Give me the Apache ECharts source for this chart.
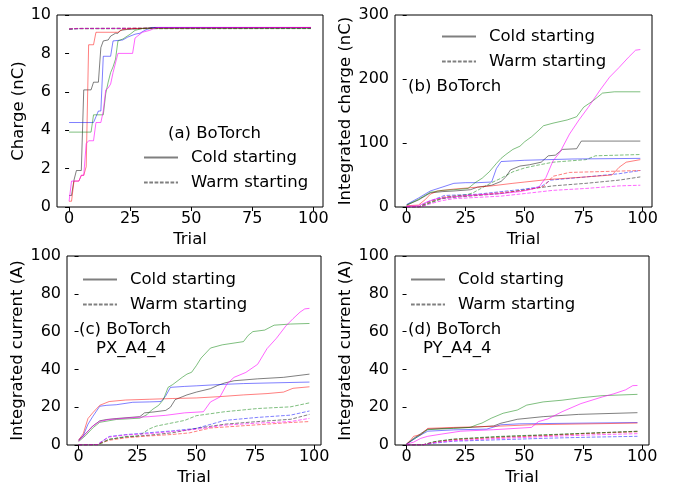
<!DOCTYPE html>
<html>
<head>
<meta charset="utf-8">
<script src="https://cdn.jsdelivr.net/npm/echarts@6/dist/echarts.min.js"></script>
<style>html,body{margin:0;padding:0;background:#fff}#c{width:673px;height:487px}</style>
</head>
<body>
<div id="c"></div>
<script>
// ---------- tick labels ----------
const trialTicks = [0, 25, 50, 75, 100];

// ---------- (a) Charge (nC) ----------
const aColdGray = [[0,0.6],[1,0.6],[2,1.4],[3,1.9],[5,1.9],[6,6.1],[9,6.1],[10,6.5],[12,6.5],[13,8.3],[14,8.65],[16,8.7],[17,8.9],[19,9.05],[20,9.05],[21,9.2],[24,9.25],[30,9.3],[35,9.35],[99,9.35]];
const aColdBlue = [[0,4.4],[10,4.4],[11,4.7],[12,5.0],[13,5.0],[14,7.85],[17,7.85],[18,8.65],[22,8.7],[24,8.85],[27,9.0],[29,9.05],[31,9.2],[34,9.35],[99,9.35]];
const aColdRed = [[0,0.3],[1,0.3],[2,1.35],[4,1.35],[5,1.65],[6,1.65],[7,2.1],[8,8.45],[10,8.45],[11,9.1],[20,9.1],[22,9.25],[26,9.3],[99,9.35]];
const aColdGreen = [[0,3.9],[9,3.9],[10,4.8],[14,4.8],[15,5.9],[16,6.5],[17,7.0],[18,7.3],[19,7.7],[20,8.65],[22,8.75],[25,9.0],[27,9.2],[30,9.3],[99,9.3]];
const aColdMagenta = [[0,0.3],[1,1.35],[4,1.35],[5,1.65],[6,1.65],[7,3.3],[8,3.45],[10,3.45],[11,4.4],[13,4.4],[14,5.0],[15,6.1],[16,6.2],[17,6.4],[18,7.0],[20,8.0],[26,8.0],[27,8.8],[28,8.9],[30,9.1],[33,9.2],[36,9.35],[99,9.35]];
const aWarmGray = [[0,9.27],[3,9.3],[99,9.33]];
const aWarmBlue = [[0,9.26],[5,9.3],[99,9.32]];
const aWarmRed = [[0,9.27],[4,9.3],[99,9.32]];
const aWarmGreen = [[0,9.26],[3,9.28],[99,9.29]];
const aWarmMagenta = [[0,9.27],[2,9.29],[99,9.33]];

// ---------- (b) Integrated charge (nC) ----------
const bColdGray = [[0,3],[5,11],[10,22],[15,24],[20,25],[27,27],[30,31],[36,34],[40,40],[42,47],[44,58],[48,64],[52,66],[57,70],[60,80],[63,81],[66,90],[72,91],[74,103],[99,103]];
const bColdBlue = [[0,4],[5,14],[10,25],[15,31],[20,37],[25,38],[30,38],[36,39],[38,60],[40,71],[45,72],[50,73],[70,75],[99,76]];
const bColdRed = [[0,2],[5,3],[8,12],[10,20],[13,25],[20,28],[30,31],[36,33],[45,37],[50,39],[60,43],[76,47],[87,50],[90,62],[93,70],[99,74]];
const bColdGreen = [[0,3],[5,12],[10,23],[15,26],[20,27],[26,29],[29,38],[32,45],[35,55],[38,68],[40,76],[42,82],[45,90],[48,95],[50,102],[53,110],[56,120],[58,127],[62,131],[68,136],[72,141],[75,156],[79,166],[83,178],[88,180],[99,180]];
const bColdMagenta = [[0,1],[5,2],[8,7],[10,10],[13,13],[20,16],[30,19],[40,21],[48,24],[52,27],[56,31],[59,46],[62,72],[65,86],[69,114],[73,136],[77,156],[82,183],[86,203],[90,218],[94,234],[97,245],[99,246]];
const bWarmGray = [[0,0],[6,0],[9,5],[15,13],[20,15],[30,18],[40,21],[50,27],[62,33],[76,37],[90,42],[99,47]];
const bWarmBlue = [[0,0],[5,0],[9,8],[16,18],[30,20],[50,28],[57,32],[61,42],[76,47],[90,52],[99,57]];
const bWarmRed = [[0,0],[5,0],[9,7],[16,16],[30,19],[50,26],[58,32],[62,48],[69,54],[99,57]];
const bWarmGreen = [[0,0],[5,0],[9,6],[15,14],[20,17],[25,19],[28,22],[32,30],[36,38],[40,45],[45,55],[50,61],[55,65],[62,70],[76,74],[80,80],[99,82]];
const bWarmMagenta = [[0,0],[6,0],[9,4],[15,10],[20,13],[30,15],[40,17],[50,21],[62,26],[76,29],[90,33],[99,34]];

// ---------- (c) Integrated current (A), PX_A4_4 ----------
const cColdGray = [[0,2.3],[3,6],[6,10],[9,12.8],[12,13.5],[16,14],[26,15],[28,17],[32,17.5],[37,18.3],[39,20],[41,24],[44,25.5],[46,26.5],[50,28],[56,29.8],[59,31.5],[62,32.8],[66,34],[76,35],[87,35.8],[98,37.5]];
const cColdBlue = [[0,2.8],[2,5],[4,11],[6,15],[9,20.5],[12,21],[16,21.3],[23,22.6],[30,22.8],[35,23],[37,26],[39,30.5],[45,31],[50,31.3],[60,32],[70,32.5],[80,32.8],[98,33.3]];
const cColdRed = [[0,2.5],[2,6],[4,14],[6,17],[9,21],[13,23],[20,23.8],[30,24.2],[40,24.6],[50,24.9],[60,25.6],[70,26.5],[80,27.2],[87,28],[91,30],[98,30.8]];
const cColdGreen = [[0,1.8],[3,5],[6,9],[9,12],[16,13.5],[26,14.2],[29,16],[31,18.5],[34,21],[36,24],[38,30.5],[40,32],[44,35.8],[46,37.5],[48,38.5],[50,42],[52,46],[56,51.3],[61,53],[70,54.7],[72,58],[74,60],[79,60.8],[83,63.4],[90,64],[98,64.3]];
const cColdMagenta = [[0,2],[3,6],[6,10],[9,12.5],[13,13.5],[23,14.5],[30,15],[37,15.7],[45,17],[53,17.6],[56,22.8],[60,25.4],[63,32.3],[66,35.8],[71,38.4],[76,42.7],[80,51],[84,56.5],[88,63],[91,66.8],[94,70.3],[96,72],[98,72.3]];
const cWarmGray = [[0,0],[8,0.2],[10,1.5],[13,3],[20,4.2],[30,5.2],[40,6.5],[50,8.8],[62,11],[76,12.4],[90,13.6],[98,16.2]];
const cWarmBlue = [[0,0],[8,0.2],[10,2],[13,4.5],[20,5.5],[30,6.5],[40,7.5],[50,8.8],[62,13],[76,14.6],[90,15.8],[98,18]];
const cWarmRed = [[0,0],[8,0.2],[10,1.2],[13,2.5],[20,3.8],[30,4.8],[40,5.6],[47,6.4],[56,9],[76,10.7],[90,11.9],[98,12.4]];
const cWarmGreen = [[0,0],[8,0.2],[10,1],[13,3],[20,4.5],[25,4.8],[27,6],[30,8.5],[33,10],[37,11],[45,13],[50,15.5],[62,17.6],[76,19.3],[90,20.2],[98,22.3]];
const cWarmMagenta = [[0,0],[8,0.2],[10,2],[13,4.2],[20,5.3],[30,6],[40,7.2],[50,8.3],[62,10.5],[76,11.6],[90,12.4],[98,14.1]];

// ---------- (d) Integrated current (A), PY_A4_4 ----------
const dColdGray = [[0,0.5],[3,3.5],[6,6],[9,8.4],[20,9],[27,9.3],[37,10.1],[40,11.5],[43,12.4],[47,13.6],[58,15],[73,16.2],[98,17.1]];
const dColdBlue = [[0,0.5],[4,3.8],[7,6],[9,7.3],[20,8],[34,8.4],[37,9.5],[40,10.7],[48,11.2],[98,11.9]];
const dColdRed = [[0,0.5],[2,3],[3,4.6],[6,5.5],[9,8.8],[20,9.3],[40,10],[53,10.7],[98,11.6]];
const dColdGreen = [[0,0.5],[3,3],[6,5.5],[9,8.1],[20,8.8],[27,9.3],[30,10.8],[32,11.6],[36,14.2],[41,16.8],[47,18.5],[51,21.1],[58,22.8],[66,23.7],[74,25],[83,26.1],[98,26.8]];
const dColdMagenta = [[0,0.5],[3,1.5],[6,3.5],[9,4.6],[15,5.8],[23,7.3],[37,8.1],[53,9.3],[56,12.4],[60,13.8],[66,17.6],[74,21.9],[83,25.4],[88,27.1],[93,29.2],[96,31.4],[98,31.5]];
const dWarmGray = [[0,0],[7,0.1],[9,0.8],[12,1.8],[20,3],[40,4.4],[60,5.3],[80,6.4],[98,7.3]];
const dWarmBlue = [[0,0],[7,0.1],[9,0.5],[12,1],[20,2],[40,2.8],[60,3.6],[80,4.2],[98,4.6]];
const dWarmRed = [[0,0],[7,0.1],[9,0.7],[12,1.5],[20,2.8],[40,4],[60,5],[80,6.2],[98,7]];
const dWarmGreen = [[0,0],[7,0.1],[9,0.8],[12,1.8],[20,3.2],[40,4.6],[60,5.5],[80,6.4],[98,7.2]];
const dWarmMagenta = [[0,0],[7,0.1],[9,0.6],[12,1.3],[20,2.3],[40,3.5],[60,4.5],[80,5.4],[98,6]];

const legendNames = ['Cold starting', 'Warm starting'];

// ---------- styling / layout ----------
const FONT = 'DejaVu Sans';
const colorOf = {
  gray: 'rgba(0,0,0,0.5)', blue: 'rgba(0,0,255,0.5)', red: 'rgba(255,0,0,0.5)',
  green: 'rgba(0,128,0,0.5)', magenta: 'rgba(255,0,255,0.6)'
};
const DASH = [3.7, 1.6];
const panels = [
  { grid: {left: 57, top: 15, width: 266, height: 192}, xr: [-4.95, 103.95], yr: [0, 10, 2], yName: 'Charge (nC)', yGap: 28,
    cold: {gray: aColdGray, blue: aColdBlue, red: aColdRed, green: aColdGreen, magenta: aColdMagenta},
    warm: {gray: aWarmGray, blue: aWarmBlue, red: aWarmRed, green: aWarmGreen, magenta: aWarmMagenta} },
  { grid: {left: 395, top: 15, width: 257, height: 192}, xr: [-4.95, 103.95], yr: [0, 300, 100], yName: 'Integrated charge (nC)', yGap: 37,
    cold: {gray: bColdGray, blue: bColdBlue, red: bColdRed, green: bColdGreen, magenta: bColdMagenta},
    warm: {gray: bWarmGray, blue: bWarmBlue, red: bWarmRed, green: bWarmGreen, magenta: bWarmMagenta} },
  { grid: {left: 67, top: 256, width: 254, height: 193}, xr: [-4.9, 102.9], yr: [0, 100, 20], yName: 'Integrated current (A)', yGap: 40,
    cold: {gray: cColdGray, blue: cColdBlue, red: cColdRed, green: cColdGreen, magenta: cColdMagenta},
    warm: {gray: cWarmGray, blue: cWarmBlue, red: cWarmRed, green: cWarmGreen, magenta: cWarmMagenta} },
  { grid: {left: 395, top: 256, width: 254, height: 193}, xr: [-4.9, 102.9], yr: [0, 100, 20], yName: 'Integrated current (A)', yGap: 40,
    cold: {gray: dColdGray, blue: dColdBlue, red: dColdRed, green: dColdGreen, magenta: dColdMagenta},
    warm: {gray: dWarmGray, blue: dWarmBlue, red: dWarmRed, green: dWarmGreen, magenta: dWarmMagenta} }
];
const legendPos = [{left: 143, top: 149}, {left: 441, top: 28}, {left: 82, top: 271}, {left: 410, top: 271}];
const labels = [
  {text: '(a) BoTorch', left: 168, top: 125},
  {text: '(b) BoTorch', left: 408, top: 78},
  {text: '(c) BoTorch', left: 79, top: 321},
  {text: 'PX_A4_4', left: 96, top: 340},
  {text: '(d) BoTorch', left: 408, top: 321},
  {text: 'PY_A4_4', left: 423, top: 340}
];

const grids = [], xAxes = [], yAxes = [], series = [];
panels.forEach((p, i) => {
  grids.push(Object.assign({show: true, borderColor: '#000', borderWidth: 1, backgroundColor: 'transparent'}, p.grid));
  xAxes.push({
    gridIndex: i, type: 'value', min: p.xr[0], max: p.xr[1],
    name: 'Trial', nameLocation: 'middle', nameGap: 24,
    nameTextStyle: {fontFamily: FONT, fontSize: 16.5, color: '#000'},
    axisLine: {show: false}, splitLine: {show: false},
    axisTick: {show: true, customValues: trialTicks, length: 4, lineStyle: {color: '#000', width: 1}},
    axisLabel: {customValues: trialTicks, fontFamily: FONT, fontSize: 16, color: '#000', margin: 4}
  });
  yAxes.push({
    gridIndex: i, type: 'value', min: p.yr[0], max: p.yr[1], interval: p.yr[2],
    name: p.yName, nameLocation: 'middle', nameGap: p.yGap,
    nameTextStyle: {fontFamily: FONT, fontSize: 16.5, color: '#000'},
    axisLine: {show: false}, splitLine: {show: false},
    axisTick: {show: true, length: 4, lineStyle: {color: '#000', width: 1}},
    axisLabel: {fontFamily: FONT, fontSize: 16, color: '#000', margin: 6}
  });
  ['cold', 'warm'].forEach(kind => {
    ['gray', 'blue', 'red', 'green', 'magenta'].forEach(c => {
      series.push({
        type: 'line', xAxisIndex: i, yAxisIndex: i, data: p[kind][c],
        symbol: 'none', silent: true, z: kind === 'cold' ? 3 : 2,
        lineStyle: {color: colorOf[c], width: 1, type: kind === 'cold' ? 'solid' : DASH}
      });
    });
  });
});
// legend entries (no data)
series.push({type: 'line', name: legendNames[0], xAxisIndex: 0, yAxisIndex: 0, data: [], symbol: 'none',
  itemStyle: {color: 'rgba(0,0,0,0.5)'}, lineStyle: {color: 'rgba(0,0,0,0.5)', width: 1, type: 'solid'}});
series.push({type: 'line', name: legendNames[1], xAxisIndex: 0, yAxisIndex: 0, data: [], symbol: 'none',
  itemStyle: {color: 'rgba(0,0,0,0.5)'}, lineStyle: {color: 'rgba(0,0,0,0.5)', width: 1, type: DASH}});

const legends = legendPos.map(pos => ({
  data: legendNames, orient: 'vertical', left: pos.left, top: pos.top, padding: 0,
  itemWidth: 34, itemHeight: 16, itemGap: 8, selectedMode: false,
  itemStyle: {opacity: 0},
  textStyle: {fontFamily: FONT, fontSize: 16.5, color: '#000', padding: [0, 0, 0, 8]}
}));

const titles = labels.map(l => ({
  text: l.text, left: l.left, top: l.top, padding: 0,
  textStyle: {fontFamily: FONT, fontSize: 16.5, fontWeight: 'normal', color: '#000'}
}));

const chart = echarts.init(document.getElementById('c'), null, {renderer: 'canvas'});
chart.setOption({
  animation: false,
  backgroundColor: '#fff',
  title: titles,
  legend: legends,
  grid: grids,
  xAxis: xAxes,
  yAxis: yAxes,
  series: series
});
</script>
</body>
</html>
